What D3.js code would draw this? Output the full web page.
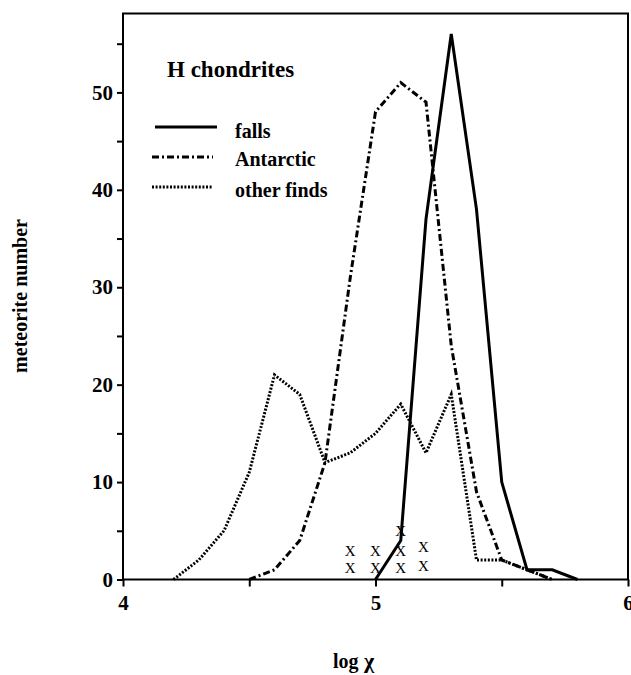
<!DOCTYPE html>
<html>
<head>
<meta charset="utf-8">
<script src="https://cdn.jsdelivr.net/npm/d3@7"></script>
<style>
  body { margin: 0; background: #fff; }
  svg text { font-family: 'Liberation Serif', 'Times New Roman', serif; fill: #000; }
  .bold { font-weight: bold; }
</style>
</head>
<body>
<div id="chart"></div>
<script>
// log chi bins shared by the three histograms
var logChi = [4.2, 4.3, 4.4, 4.5, 4.6, 4.7, 4.8, 4.9, 5.0, 5.1, 5.2, 5.3, 5.4, 5.5, 5.6, 5.7, 5.8];
var falls = [null, null, null, null, null, null, null, null, 0, 4, 37, 56, 38, 10, 1, 1, 0];
var antarctic = [null, null, null, 0, 1, 4, 12, 31, 48, 51, 49, 24, 9, 2, 1, 0, null];
var otherFinds = [0, 2, 5, 11, 21, 19, 12, 13, 15, 18, 13, 19, 2, 2, 1, 0, null];

// individual meteorites marked with an X near the axis
var markX = [4.9, 4.9, 5.0, 5.0, 5.1, 5.1, 5.1, 5.19, 5.19];
var markY = [1.2, 3.0, 1.2, 3.0, 1.2, 3.0, 5.0, 1.4, 3.4];

var xTicks = [4, 5, 6];
var xMinorTicks = [4.5, 5.5];
var yTicks = [0, 10, 20, 30, 40, 50];
var yMinorTicks = [5, 15, 25, 35, 45, 55];

(function(d3) {
  'use strict';

  var width = 631, height = 675;
  var left = 123, right = 628, top = 13.5, bottom = 579.5;

  var svg = d3.select('#chart').append('svg')
    .attr('width', width)
    .attr('height', height);

  var x = d3.scaleLinear().domain([4, 6]).range([left, right]);
  var y = d3.scaleLinear().domain([0, 58.1]).range([bottom, top]);

  var series = [
    { name: 'falls', values: falls, dash: null },
    { name: 'Antarctic', values: antarctic, dash: '7,3,2,3' },
    { name: 'other finds', values: otherFinds, dash: '2,1.6' }
  ];

  var line = d3.line()
    .defined(function(d) { return d != null; })
    .x(function(d, i) { return x(logChi[i]); })
    .y(function(d) { return y(d); });

  svg.selectAll('path.series').data(series).enter().append('path')
    .attr('class', 'series')
    .attr('d', function(d) { return line(d.values); })
    .attr('fill', 'none')
    .attr('stroke', '#000')
    .attr('stroke-width', 3)
    .attr('stroke-linejoin', 'miter')
    .attr('stroke-dasharray', function(d) { return d.dash; });

  // X marks
  svg.selectAll('text.mark').data(markX).enter().append('text')
    .attr('class', 'mark')
    .attr('x', function(d) { return x(d); })
    .attr('y', function(d, i) { return y(markY[i]); })
    .attr('dy', '0.35em')
    .attr('text-anchor', 'middle')
    .style('font-size', '15px')
    .text('X');

  // frame
  svg.append('rect')
    .attr('x', left)
    .attr('y', top)
    .attr('width', right - left)
    .attr('height', bottom - top)
    .attr('fill', 'none')
    .attr('stroke', '#000')
    .attr('stroke-width', 2);

  var styleAxis = function(g) {
    g.attr('font-family', null).attr('font-size', null);
    g.select('.domain').remove();
    g.selectAll('line').attr('stroke', '#000').attr('stroke-width', 2);
    g.selectAll('text')
      .style('font-size', '21px')
      .style('font-weight', 'bold')
      .style('font-family', "'Liberation Serif', serif")
      .attr('fill', '#000');
  };

  svg.append('g')
    .attr('transform', 'translate(0,' + bottom + ')')
    .call(d3.axisBottom(x).tickValues(xTicks).tickSize(7).tickPadding(9).tickFormat(d3.format('d')))
    .call(styleAxis);

  svg.append('g')
    .attr('transform', 'translate(0,' + bottom + ')')
    .call(d3.axisBottom(x).tickValues(xMinorTicks).tickSize(7).tickFormat(''))
    .call(styleAxis);

  svg.append('g')
    .attr('transform', 'translate(' + left + ',0)')
    .call(d3.axisLeft(y).tickValues(yTicks).tickSize(6).tickPadding(4))
    .call(styleAxis);

  svg.append('g')
    .attr('transform', 'translate(' + left + ',0)')
    .call(d3.axisLeft(y).tickValues(yMinorTicks).tickSize(6).tickFormat(''))
    .call(styleAxis);

  // axis titles
  svg.append('text')
    .attr('class', 'bold')
    .attr('transform', 'translate(27,296) rotate(-90)')
    .attr('text-anchor', 'middle')
    .style('font-size', '20px')
    .text('meteorite number');

  var xTitle = svg.append('text')
    .attr('class', 'bold')
    .attr('x', 333)
    .attr('y', 668)
    .style('font-size', '20px');
  xTitle.append('tspan').text('log');
  xTitle.append('tspan').attr('x', 364).style('font-size', '22px').text('χ');

  // legend
  svg.append('text')
    .attr('class', 'bold')
    .attr('x', 167)
    .attr('y', 77)
    .style('font-size', '23px')
    .text('H chondrites');

  var legendY = [127, 157, 187];
  var legendTextY = [138, 166, 197];
  var lg = svg.selectAll('g.legend').data(series).enter().append('g')
    .attr('class', 'legend');

  lg.append('line')
    .attr('x1', function(d, i) { return i === 0 ? 155 : 152; })
    .attr('x2', function(d, i) { return i === 0 ? 217 : 213; })
    .attr('y1', function(d, i) { return legendY[i]; })
    .attr('y2', function(d, i) { return legendY[i]; })
    .attr('stroke', '#000')
    .attr('stroke-width', 3)
    .attr('stroke-dasharray', function(d) { return d.dash; });

  lg.append('text')
    .attr('class', 'bold')
    .attr('x', 235)
    .attr('y', function(d, i) { return legendTextY[i]; })
    .style('font-size', '20px')
    .text(function(d) { return d.name; });
}(d3));
</script>
</body>
</html>
